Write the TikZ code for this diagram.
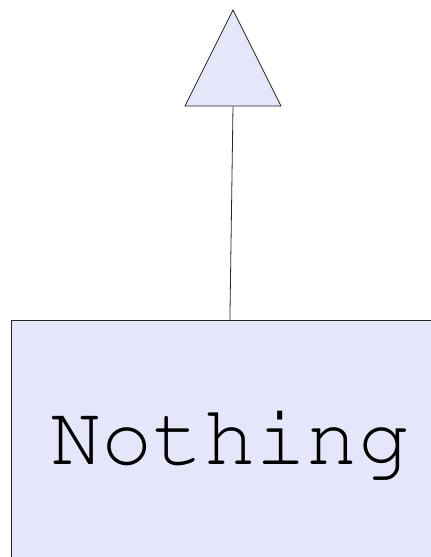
\documentclass[tikz,border=0pt]{standalone}
\usepackage[T1]{fontenc}
\usetikzlibrary{shapes.geometric,positioning}
\definecolor{lavender}{RGB}{230,230,250}

\tikzset{
  shapebox/.style={draw=black!85, line width=0.8pt, fill=lavender},
  textbox/.style={shapebox, rectangle, inner sep=0pt, minimum width=437pt,
    minimum height=246pt, font=\fontfamily{pcr}\fontsize{85.5}{86}\selectfont},
  arrowhead/.style={shapebox, isosceles triangle, shape border rotate=90,
    isosceles triangle stretches, inner sep=0pt, minimum width=96pt,
    minimum height=96pt}
}

\begin{document}
\begin{tikzpicture}[x=1pt,y=1pt]
        \useasboundingbox (0,0) rectangle (431,557);
        \clip (0,0) rectangle (431,557);
        % Kotak dan segitiga
        \node[textbox, anchor=north west] (nothing) at (11,237) {Nothing};
        \node[arrowhead, anchor=apex] (tip) at (233,548) {};
        % Garis penghubung
        \draw[black!85, line width=0.8pt] (tip.lower side) -- (nothing.north);
      \end{tikzpicture}
\end{document}
